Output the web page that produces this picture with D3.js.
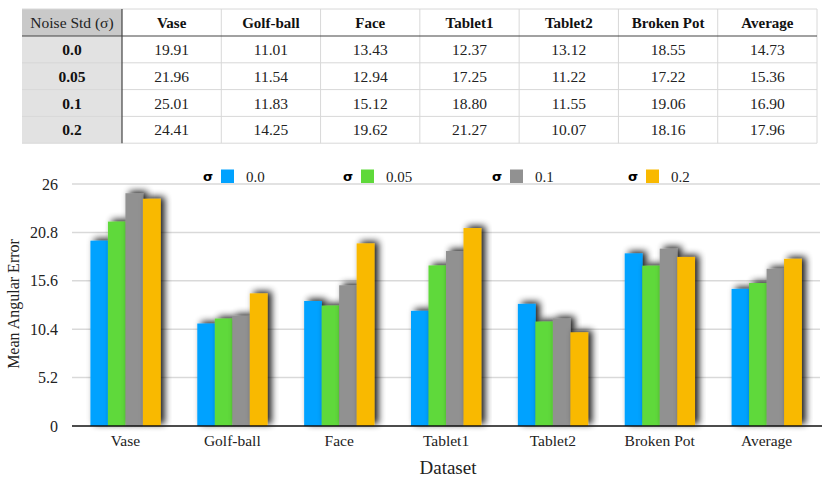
<!DOCTYPE html>
<html>
<head>
<meta charset="utf-8">
<script src="https://cdn.jsdelivr.net/npm/d3@7"></script>
<style>
  body { margin: 0; background: #fff; }
  text { font-family: "Liberation Serif", "Times New Roman", serif; }
</style>
</head>
<body>
<div id="chart"></div>
<script>
// data
var datasets = ["Vase", "Golf-ball", "Face", "Tablet1", "Tablet2", "Broken Pot", "Average"];
var sigmas = ["0.0", "0.05", "0.1", "0.2"];
var err00 = [19.91, 11.01, 13.43, 12.37, 13.12, 18.55, 14.73];
var err005 = [21.96, 11.54, 12.94, 17.25, 11.22, 17.22, 15.36];
var err01 = [25.01, 11.83, 15.12, 18.80, 11.55, 19.06, 16.90];
var err02 = [24.41, 14.25, 19.62, 21.27, 10.07, 18.16, 17.96];
var yTicks = [0, 5.2, 10.4, 15.6, 20.8, 26];
var colors = ["#00a2ff", "#5fd93a", "#919191", "#f9b900"];

var series = [err00, err005, err01, err02];

var w = 830, h = 483;
var svg = d3.select("#chart").append("svg")
    .attr("width", w)
    .attr("height", h);

// ---- table on top ----
var tblX0 = 22, firstW = 100, tblX1 = 817,
    headTop = 9, headBot = 36, rowH = 26.8;
var colX = d3.scaleBand()
    .domain(datasets)
    .range([tblX0 + firstW, tblX1]);
var tbl = svg.append("g");

// shaded first column
tbl.append("rect")
    .attr("x", tblX0).attr("y", headTop)
    .attr("width", firstW).attr("height", headBot - headTop)
    .attr("fill", "#c9c9c9");
tbl.append("rect")
    .attr("x", tblX0).attr("y", headBot)
    .attr("width", firstW).attr("height", rowH * sigmas.length)
    .attr("fill", "#e2e2e2");

// light grid lines
var rowYs = d3.range(sigmas.length + 1).map(function(i) { return headBot + i * rowH; });
tbl.selectAll("line.h")
    .data([headTop].concat(rowYs.slice(1)))
    .enter().append("line")
    .attr("x1", tblX0).attr("x2", tblX1)
    .attr("y1", function(d) { return d; }).attr("y2", function(d) { return d; })
    .attr("stroke", "#d8d8d8").attr("stroke-width", 1);
tbl.selectAll("line.v")
    .data(datasets.slice(1).map(function(d) { return colX(d); }).concat([tblX1]))
    .enter().append("line")
    .attr("x1", function(d) { return d; }).attr("x2", function(d) { return d; })
    .attr("y1", headTop).attr("y2", rowYs[rowYs.length - 1])
    .attr("stroke", "#d8d8d8").attr("stroke-width", 1);

// dark separators
tbl.append("line")
    .attr("x1", tblX0).attr("x2", tblX1)
    .attr("y1", headBot).attr("y2", headBot)
    .attr("stroke", "#444").attr("stroke-width", 1.2);
tbl.append("line")
    .attr("x1", tblX0 + firstW).attr("x2", tblX0 + firstW)
    .attr("y1", headTop).attr("y2", rowYs[rowYs.length - 1])
    .attr("stroke", "#444").attr("stroke-width", 1.2);

// header text
tbl.append("text")
    .attr("x", tblX0 + firstW / 2).attr("y", (headTop + headBot) / 2 + 5)
    .attr("text-anchor", "middle")
    .style("font-size", "15.5px")
    .attr("fill", "#222")
    .text("Noise Std (σ)");
tbl.selectAll("text.head")
    .data(datasets)
    .enter().append("text")
    .attr("x", function(d) { return colX(d) + colX.bandwidth() / 2; })
    .attr("y", (headTop + headBot) / 2 + 5)
    .attr("text-anchor", "middle")
    .style("font-size", "15px")
    .style("font-weight", "bold")
    .attr("fill", "#111")
    .text(function(d) { return d; });

// body rows
sigmas.forEach(function(s, i) {
    var cy = headBot + i * rowH + rowH / 2 + 5.5;
    tbl.append("text")
        .attr("x", tblX0 + firstW / 2).attr("y", cy)
        .attr("text-anchor", "middle")
        .style("font-size", "15.5px")
        .style("font-weight", "bold")
        .attr("fill", "#111")
        .text(s);
    tbl.selectAll(null)
        .data(series[i])
        .enter().append("text")
        .attr("x", function(d, j) { return colX(datasets[j]) + colX.bandwidth() / 2; })
        .attr("y", cy)
        .attr("text-anchor", "middle")
        .style("font-size", "15.5px")
        .attr("fill", "#222")
        .text(function(d) { return d.toFixed(2); });
});

// ---- bar chart ----
var pLeft = 72, pRight = 820, pTop = 184, pBottom = 426;

var defs = svg.append("defs");
var filter = defs.append("filter")
    .attr("id", "drop-shadow")
    .attr("x", "-40%").attr("y", "-30%")
    .attr("width", "200%").attr("height", "160%");
filter.append("feGaussianBlur")
    .attr("in", "SourceAlpha")
    .attr("stdDeviation", 3.5)
    .attr("result", "blur");
filter.append("feOffset")
    .attr("in", "blur")
    .attr("dx", 3.5)
    .attr("dy", -2.5)
    .attr("result", "offsetBlur");
filter.append("feComponentTransfer")
    .attr("in", "offsetBlur")
    .attr("result", "shadow")
    .append("feFuncA").attr("type", "linear").attr("slope", 0.9);
var feMerge = filter.append("feMerge");
feMerge.append("feMergeNode").attr("in", "shadow");
feMerge.append("feMergeNode").attr("in", "SourceGraphic");

var x0 = d3.scaleBand()
    .domain(datasets)
    .range([pLeft, pRight])
    .paddingInner(0.345)
    .paddingOuter(0.1725);
var x1 = d3.scaleBand()
    .domain(sigmas)
    .range([0, x0.bandwidth()]);
var y = d3.scaleLinear()
    .domain([0, 26])
    .range([pBottom, pTop]);

// gridlines
svg.append("g")
    .selectAll("line")
    .data(yTicks.slice(1))
    .enter().append("line")
    .attr("x1", pLeft).attr("x2", pRight)
    .attr("y1", function(d) { return y(d); })
    .attr("y2", function(d) { return y(d); })
    .attr("stroke", "#d9d9d9")
    .attr("stroke-width", 1.5);

// y axis labels
var yAxis = d3.axisLeft(y)
    .tickValues(yTicks)
    .tickSize(0)
    .tickPadding(14)
    .tickFormat(function(d) { return d === 0 ? "0" : String(d); });
var gy = svg.append("g")
    .attr("transform", "translate(" + pLeft + ",0)")
    .call(yAxis);
gy.select(".domain").remove();
gy.selectAll("text")
    .style("font-family", "Liberation Serif, serif")
    .style("font-size", "16px")
    .attr("fill", "#222");

// bars
var groups = svg.append("g")
    .selectAll("g")
    .data(datasets)
    .enter().append("g")
    .attr("transform", function(d) { return "translate(" + x0(d) + ",0)"; });
groups.selectAll("rect")
    .data(function(d, i) {
        return sigmas.map(function(s, k) { return { s: s, k: k, v: series[k][i] }; });
    })
    .enter().append("rect")
    .attr("x", function(d) { return x1(d.s); })
    .attr("width", x1.bandwidth() + 0.3)
    .attr("y", function(d) { return y(d.v); })
    .attr("height", function(d) { return pBottom - y(d.v); })
    .attr("fill", function(d) { return colors[d.k]; })
    .style("filter", "url(#drop-shadow)");

// x axis
var xAxis = d3.axisBottom(x0).tickSize(0).tickPadding(9);
var gx = svg.append("g")
    .attr("transform", "translate(0," + pBottom + ")")
    .call(xAxis);
gx.select(".domain")
    .attr("d", "M" + pLeft + ",0H" + (pRight + 2))
    .attr("stroke", "#111")
    .attr("stroke-width", 1.5);
gx.selectAll("text")
    .style("font-family", "Liberation Serif, serif")
    .style("font-size", "15.5px")
    .attr("fill", "#222");

// axis titles
svg.append("text")
    .attr("transform", "translate(19," + ((pTop + pBottom) / 2 - 1) + ") rotate(-90)")
    .attr("text-anchor", "middle")
    .style("font-size", "16px")
    .attr("fill", "#222")
    .text("Mean Angular Error");
svg.append("text")
    .attr("x", (pLeft + pRight) / 2 + 2)
    .attr("y", 474)
    .attr("text-anchor", "middle")
    .style("font-size", "19px")
    .attr("fill", "#222")
    .text("Dataset");

// legend
var legendX = [203, 343, 492, 628];
var leg = svg.append("g")
    .selectAll("g")
    .data(sigmas)
    .enter().append("g")
    .attr("transform", function(d, i) { return "translate(" + legendX[i] + ",0)"; });
leg.append("text")
    .attr("x", 0).attr("y", 181)
    .style("font-family", "DejaVu Sans, sans-serif")
    .style("font-weight", "bold")
    .style("font-size", "13px")
    .text("σ");
leg.append("rect")
    .attr("x", 18).attr("y", 169.5)
    .attr("width", 13).attr("height", 13.5)
    .attr("fill", function(d, i) { return colors[i]; });
leg.append("text")
    .attr("x", 43).attr("y", 181.5)
    .style("font-size", "15px")
    .attr("fill", "#222")
    .text(function(d) { return d; });
</script>
</body>
</html>
